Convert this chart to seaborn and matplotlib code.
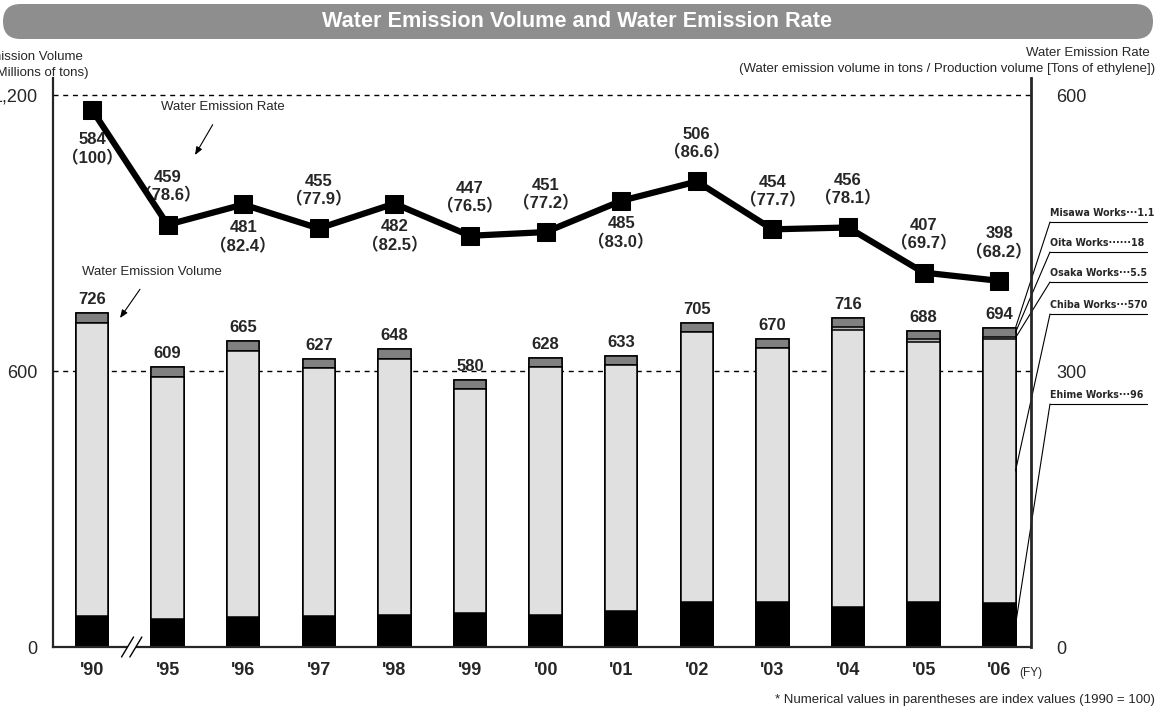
import numpy as np
import pandas as pd
import matplotlib
matplotlib.use("Agg")
import matplotlib.pyplot as plt
import matplotlib.transforms as mtransforms
from matplotlib.patches import FancyBboxPatch, Polygon
from matplotlib.lines import Line2D
from matplotlib import font_manager
from matplotlib.font_manager import FontProperties
import seaborn as sns

# ---- data -------------------------------------------------------------
years = ["'90", "'95", "'96", "'97", "'98", "'99", "'00", "'01", "'02", "'03", "'04", "'05", "'06"]
total_volume = [726, 609, 665, 627, 648, 580, 628, 633, 705, 670, 716, 688, 694]
ehime = [67, 61, 65, 67, 70, 74, 70, 78, 98, 98, 87, 98, 96]
oita = [22, 21, 22, 21, 22, 20, 20, 19, 20, 21, 20, 18, 18]
osaka = [0, 0, 0, 0, 0, 0, 0, 0, 0, 0, 6, 6, 5.5]
misawa = [0, 0, 0, 0, 0, 0, 0, 0, 0, 0, 0, 0, 1.1]
rate = [584, 459, 481, 455, 482, 447, 451, 485, 506, 454, 456, 407, 398]
rate_index = ["100", "78.6", "82.4", "77.9", "82.5", "76.5", "77.2", "83.0",
              "86.6", "77.7", "78.1", "69.7", "68.2"]
rate_label_side = ["below", "above", "below", "above", "below", "above", "above",
                   "below", "above", "above", "above", "above", "above"]
works_labels = ["Misawa Works\u00b7\u00b7\u00b71.1", "Oita Works\u00b7\u00b7\u00b7\u00b7\u00b7\u00b718",
                "Osaka Works\u00b7\u00b7\u00b75.5", "Chiba Works\u00b7\u00b7\u00b7570",
                "Ehime Works\u00b7\u00b7\u00b796"]

# ---- derived stacking -------------------------------------------------
tot = np.array(total_volume, float)
e = np.array(ehime, float)
oi = np.array(oita, float)
os_ = np.array(osaka, float)
mi = np.array(misawa, float)
chiba = tot - e - oi - os_ - mi
df = pd.DataFrame({
    "year": years,
    "top_misawa": tot,
    "top_oita": tot - mi,
    "top_osaka": tot - mi - oi,
    "top_chiba": e + chiba,
    "top_ehime": e,
})

# ---- fonts ------------------------------------------------------------
sns.set_style("white")


def has_font(name):
    try:
        font_manager.findfont(name, fallback_to_default=False)
        return True
    except Exception:
        return False


def narrow_bold_props(size):
    """Pick a condensed bold face for the works legend if one is installed."""
    entries = font_manager.fontManager.ttflist
    for f in entries:
        if f.name == "Liberation Sans Narrow" and f.weight in (700, "bold"):
            return FontProperties(fname=f.fname, size=size)
    for f in entries:
        if f.name == "DejaVu Sans" and f.stretch == "condensed" and f.weight in (700, "bold"):
            return FontProperties(fname=f.fname, size=size * 0.8)
    return None


BASE = "Liberation Sans" if has_font("Liberation Sans") else "DejaVu Sans"
plt.rcParams["font.family"] = [BASE, "Noto Sans CJK JP", "DejaVu Sans"]
PAREN_FAMILY = [BASE, "Noto Sans CJK JP", "DejaVu Sans"]
legend_fp = narrow_bold_props(9.5)
if legend_fp is None:
    legend_fp = FontProperties(family=BASE, weight="bold", size=7.8)

W, H = 1169, 709
fig = plt.figure(figsize=(W / 100, H / 100), dpi=100)
ax = fig.add_axes([53 / W, 1 - 647 / H, (1031 - 53) / W, (647 - 78) / H])

# ---- stacked bars (drawn tallest first so each layer shows) ----------
layers = [("top_misawa", "#3a3a3a"), ("top_oita", "#808080"), ("top_osaka", "#b4b4b4"),
          ("top_chiba", "#e0e0e0"), ("top_ehime", "#000000")]
BAR_W = 0.43
for col, colr in layers:
    sns.barplot(data=df, x="year", y=col, order=years, color=colr, width=BAR_W,
                saturation=1, edgecolor="black", linewidth=1.1, errorbar=None,
                ax=ax, zorder=2)

# dashed reference lines
for yv in (600, 1200):
    ax.axhline(yv, color="black", lw=1.0, ls=(0, (3.6, 3.4)), zorder=1)

ax.set_ylim(0, 1237)
ax.set_xlim(-0.516, 12.42)
ax.set_yticks([0, 600, 1200], ["0", "600", "1,200"])
ax.set_xticks(range(len(years)), years)
ax.tick_params(axis="y", length=0, pad=11, labelsize=13)
ax.tick_params(axis="x", length=0, pad=11, labelsize=13)
for lbl in ax.get_xticklabels():
    lbl.set_fontweight("bold")
ax.set_xlabel("")
ax.set_ylabel("")
for side in ("top", "right"):
    ax.spines[side].set_visible(False)
ax.spines["left"].set_linewidth(1.6)
ax.spines["bottom"].set_linewidth(1.6)

# bar totals
for i, v in enumerate(total_volume):
    ax.annotate(f"{v}", (i, v), xytext=(0, 6), textcoords="offset pixels",
                ha="center", va="bottom", fontsize=12, fontweight="bold")

# ---- emission rate line on the right axis -----------------------------
ax2 = ax.twinx()
sns.lineplot(x=np.arange(len(years)), y=rate, ax=ax2, color="black", lw=4.5,
             marker="s", markersize=12.5, markeredgecolor="black",
             markerfacecolor="black", zorder=5)
ax2.set_ylim(0, 618.5)
ax2.set_xlim(-0.516, 12.42)
ax2.set_yticks([0, 300, 600], ["0", "300", "600"])
ax2.tick_params(axis="y", length=0, pad=18, labelsize=13)
for side in ("top", "left", "bottom"):
    ax2.spines[side].set_visible(False)
ax2.spines["right"].set_linewidth(2.0)
ax2.set_ylabel("")

for i, (v, idx, side) in enumerate(zip(rate, rate_index, rate_label_side)):
    if side == "above":
        o1, o2 = 47, 29
    else:
        o1, o2 = -23, -42
        if i == 0:
            o1, o2 = -30, -49
    ax2.annotate(f"{v}", (i, v), xytext=(0, o1), textcoords="offset pixels",
                 ha="center", va="center", fontsize=12, fontweight="bold")
    ax2.annotate(f"\uff08{idx}\uff09", (i, v), xytext=(0, o2), textcoords="offset pixels",
                 ha="center", va="center", fontsize=12, fontweight="bold",
                 family=PAREN_FAMILY)

# ---- axis break mark between '90 and '95 -----------------------------
bt = mtransforms.blended_transform_factory(ax.transData, ax.transAxes)
px_x = 1 / 75.6
px_y = 1 / (647 - 78)
cx1, cx2 = 0.47, 0.58
dx, dy = 6 * px_x, 10 * px_y
ax.add_patch(Polygon([(cx1 - dx, -dy), (cx2 - dx, -dy), (cx2 + dx, dy), (cx1 + dx, dy)],
                     closed=True, transform=bt, facecolor="white", edgecolor="none",
                     clip_on=False, zorder=6))
for cx in (cx1, cx2):
    ax.add_line(Line2D([cx - dx, cx + dx], [-dy, dy], transform=bt, color="black",
                       lw=1.0, clip_on=False, zorder=7))

# ---- title banner ----------------------------------------------------
banner = FancyBboxPatch((3, H - 39), 1150, 35, boxstyle="round,pad=0,rounding_size=17.5",
                        transform=None, facecolor="#8e8e8e", edgecolor="none")
fig.add_artist(banner)
fig.text(577.5 / W, 1 - 21.5 / H, "Water Emission Volume and Water Emission Rate",
         ha="center", va="center", color="white", fontsize=15.6, fontweight="bold")

# ---- axis titles -------------------------------------------------------
fig.text(83 / W, 1 - 57 / H, "Water Emission Volume", ha="right", va="center", fontsize=9.5)
fig.text(88 / W, 1 - 73 / H, "(Millions of tons)", ha="right", va="center", fontsize=9.5)
fig.text(1150 / W, 1 - 53 / H, "Water Emission Rate", ha="right", va="center", fontsize=9.5)
fig.text(1155 / W, 1 - 69 / H,
         "(Water emission volume in tons / Production volume [Tons of ethylene])",
         ha="right", va="center", fontsize=9.5)
fig.text(1019 / W, 1 - 673 / H, "(FY)", ha="left", va="center", fontsize=8.5)
fig.text(1155 / W, 1 - 700 / H,
         "* Numerical values in parentheses are index values (1990 = 100)",
         ha="right", va="center", fontsize=9.5)

# ---- pointer notes ---------------------------------------------------
ax.annotate("Water Emission Rate", xy=(195, H - 155), xycoords="figure pixels",
            xytext=(223, H - 107), textcoords="figure pixels", ha="center", va="center",
            fontsize=9.5, arrowprops=dict(arrowstyle="-|>,head_length=0.5,head_width=0.2",
                                          lw=0.8, color="black", shrinkA=7, shrinkB=0))
ax.annotate("Water Emission Volume", xy=(120, H - 318), xycoords="figure pixels",
            xytext=(152, H - 272), textcoords="figure pixels", ha="center", va="center",
            fontsize=9.5, arrowprops=dict(arrowstyle="-|>,head_length=0.5,head_width=0.2",
                                          lw=0.8, color="black", shrinkA=7, shrinkB=0))

# ---- works legend with leader lines to the '06 bar -------------------
last = len(years) - 1
bar_edge = last + BAR_W / 2
leader_targets = [
    tot[last],
    tot[last] - mi[last] - oi[last] / 2,
    tot[last] - mi[last] - oi[last] - os_[last] / 2,
    e[last] + chiba[last] / 2,
    e[last] / 2,
]
text_y = [213, 243, 273, 305, 395]
for lbl, ty, tgt in zip(works_labels, text_y, leader_targets):
    ly = ty + 9
    fig.text(1050 / W, 1 - ty / H, lbl, ha="left", va="center", fontproperties=legend_fp)
    fig.add_artist(Line2D([1050 / W, 1147 / W], [1 - ly / H, 1 - ly / H],
                          transform=fig.transFigure, color="black", lw=0.8))
    ax.annotate("", xy=(bar_edge, tgt), xycoords="data",
                xytext=(1050, H - ly), textcoords="figure pixels",
                arrowprops=dict(arrowstyle="-", lw=0.8, color="black",
                                shrinkA=0, shrinkB=0), annotation_clip=False)

fig.savefig("out.png", dpi=100)
